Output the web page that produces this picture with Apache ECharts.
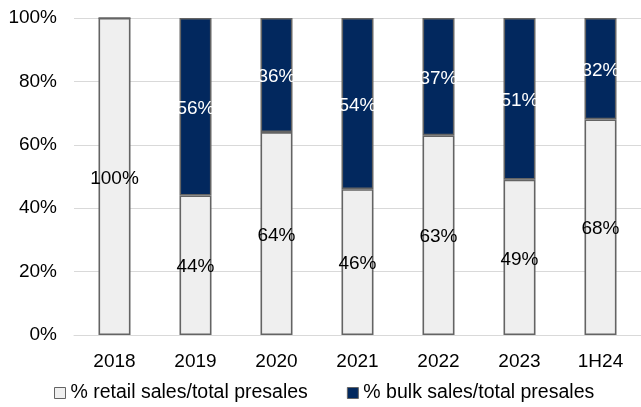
<!DOCTYPE html>
<html>
<head>
<meta charset="utf-8">
<script src="https://cdn.jsdelivr.net/npm/echarts@6/dist/echarts.min.js"></script>
<style>
  html, body { margin: 0; padding: 0; background: #fff; }
  #chart { width: 641px; height: 407px; }
</style>
</head>
<body>
<div id="chart"></div>
<script>
// Presales mix by period
const categories = ['2018', '2019', '2020', '2021', '2022', '2023', '1H24'];
const retailShare = [100, 44, 64, 46, 63, 49, 68];
const bulkShare = [0, 56, 36, 54, 37, 51, 32];
const yTicks = [0, 20, 40, 60, 80, 100];

const FONT = 'Liberation Sans, Arial, sans-serif';
const FS = 19;
const EDGE = '#646464';

const chart = echarts.init(document.getElementById('chart'), null, { renderer: 'canvas' });

chart.setOption({
  animation: false,
  textStyle: { fontFamily: FONT },
  grid: { left: 74, right: -3, top: 18, bottom: 72, containLabel: false },
  legend: {
    top: 383,
    left: 54,
    itemGap: 39,
    itemWidth: 11,
    itemHeight: 11,
    itemStyle: { borderColor: EDGE, borderWidth: 1 },
    icon: 'rect',
    padding: 0,
    textStyle: { fontFamily: FONT, fontSize: 19.5, color: '#000' },
    data: ['% retail sales/total presales', '% bulk sales/total presales']
  },
  xAxis: {
    type: 'category',
    data: categories,
    axisLine: { show: true, lineStyle: { color: '#d9d9d9', width: 1 } },
    axisTick: { show: false },
    axisLabel: { fontFamily: FONT, fontSize: FS, color: '#000', margin: 17 }
  },
  yAxis: {
    type: 'value',
    min: yTicks[0],
    max: yTicks[yTicks.length - 1],
    interval: 20,
    axisLine: { show: false },
    axisTick: { show: false },
    splitLine: { lineStyle: { color: '#d9d9d9', width: 1 } },
    axisLabel: {
      fontFamily: FONT, fontSize: FS, color: '#000', margin: 17,
      formatter: v => v + '%'
    }
  },
  series: [
    {
      name: '% retail sales/total presales',
      type: 'bar',
      stack: 'mix',
      data: retailShare,
      barWidth: 32,
      itemStyle: { color: '#efefef', borderColor: EDGE, borderWidth: 1.6 },
      label: {
        show: true, position: 'inside', color: '#000', offset: [0, 2],
        fontFamily: FONT, fontSize: FS,
        formatter: p => p.value > 0 ? p.value + '%' : ''
      }
    },
    {
      name: '% bulk sales/total presales',
      type: 'bar',
      stack: 'mix',
      data: bulkShare,
      barWidth: 32,
      itemStyle: { color: '#02285e', borderColor: EDGE, borderWidth: 1.6 },
      label: {
        show: true, position: 'inside', color: '#fff', offset: [0, 2],
        fontFamily: FONT, fontSize: FS,
        formatter: p => p.value > 0 ? p.value + '%' : ''
      }
    }
  ]
});
</script>
</body>
</html>
